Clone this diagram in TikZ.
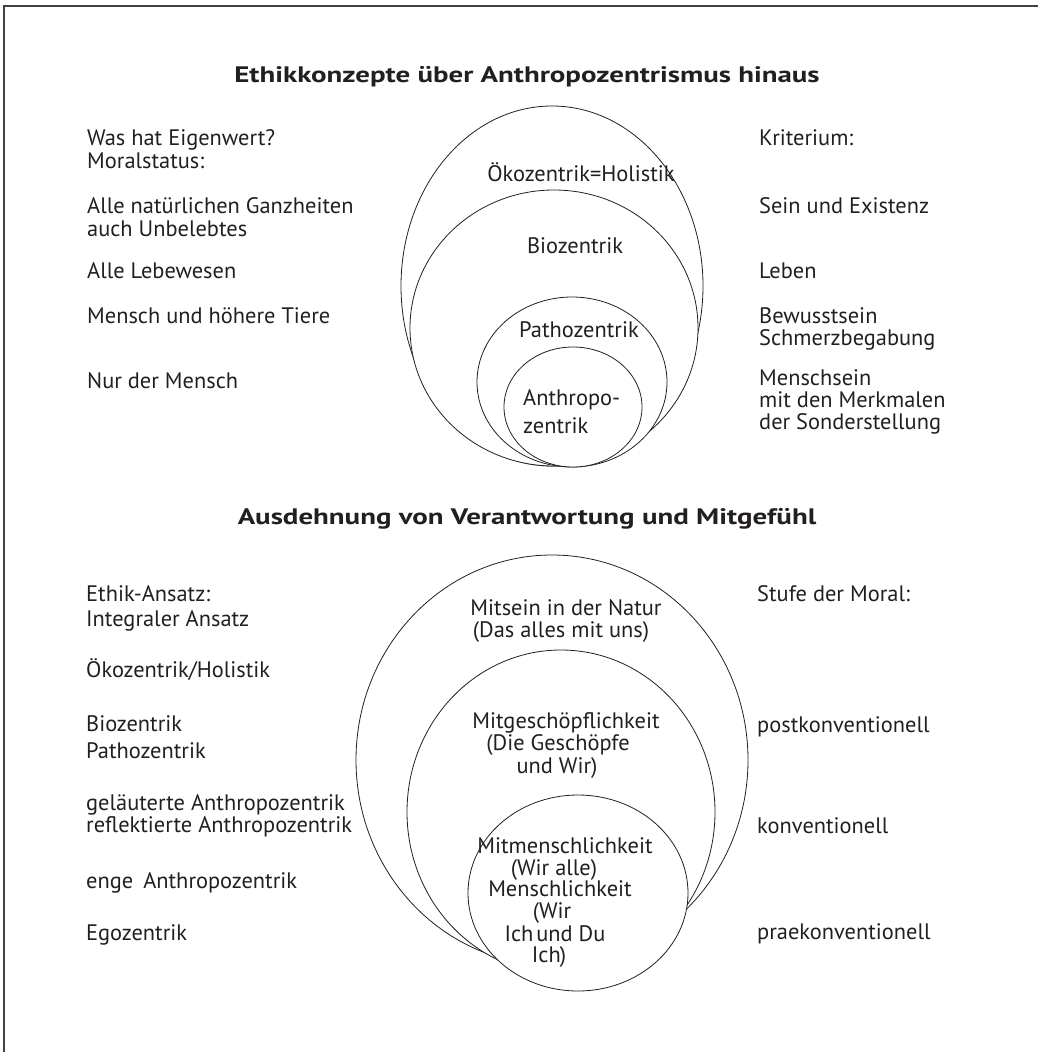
\documentclass[tikz,border=0pt]{standalone}
\usepackage{fontspec}
\setmainfont{PT Sans}
\newfontfamily\titlefont[FakeStretch=1.29]{PT Sans}
\definecolor{ink}{HTML}{231F20}
\begin{document}
\begin{tikzpicture}[x=1pt,y=-1pt,
  every node/.style={inner sep=0pt, text=ink, font=\fontsize{22.4}{24}\selectfont},
  lbl/.style={anchor=base west},
  ctr/.style={anchor=base},
  hd/.style={anchor=base, font=\titlefont\fontsize{22.4}{24}\selectfont\bfseries},
  ring/.style={draw=ink, line width=0.8pt, fill=white},
  frame/.style={draw=ink!85, line width=1.4pt}]
\useasboundingbox (0,0) rectangle (1038,1052);
\draw[frame] (4,1052) -- (4,6) -- (1038,6);

% ---------- top diagram ----------
\node[hd] (t1) at (527,82) {Ethikkonzepte über Anthropozentrismus hinaus};

\draw[ring] (552,286) ellipse [x radius=151pt, y radius=180pt];
\draw[ring] (554,328) ellipse [x radius=144pt, y radius=138pt];
\draw[ring] (572,382) ellipse [x radius=95pt, y radius=85pt];
\draw[ring] (573,407) ellipse [x radius=69pt, y radius=60pt];

\node[ctr] (c1) at (581,181) {Ökozentrik=Holistik};
\node[ctr] (c2) at (575,253) {Biozentrik};
\node[ctr] (c3) at (579,337) {Pathozentrik};
\node[lbl] (c4a) at (523,405) {Anthropo-};
\node[lbl] (c4b) at (523,433) {zentrik};

\node[lbl] (l1a) at (87,145) {Was hat Eigenwert?};
\node[lbl] (l1b) at (87,168) {Moralstatus:};
\node[lbl] (l2a) at (87,213) {Alle natürlichen Ganzheiten};
\node[lbl] (l2b) at (87,236) {auch Unbelebtes};
\node[lbl] (l3) at (87,278) {Alle Lebewesen};
\node[lbl] (l4) at (87,323) {Mensch und höhere Tiere};
\node[lbl] (l5) at (87,388) {Nur der Mensch};

\node[lbl] (r1) at (759,145) {Kriterium:};
\node[lbl] (r2) at (759,213) {Sein und Existenz};
\node[lbl] (r3) at (759,278) {Leben};
\node[lbl] (r4a) at (759,323) {Bewusstsein};
\node[lbl] (r4b) at (759,345) {Schmerzbegabung};
\node[lbl] (r5a) at (759,385) {Menschsein};
\node[lbl] (r5b) at (759,407) {mit den Merkmalen};
\node[lbl] (r5c) at (759,429) {der Sonderstellung};

% ---------- bottom diagram ----------
\node[hd] (t2) at (527,524) {Ausdehnung von Verantwortung und Mitgefühl};

\draw[ring] (552,760) ellipse [x radius=196pt, y radius=205pt];
\draw[ring] (561,812) ellipse [x radius=154pt, y radius=162pt];
\draw[ring] (578,893) ellipse [x radius=110pt, y radius=98pt];

\node[ctr] (m1a) at (566,615) {Mitsein in der Natur};
\node[ctr] (m1b) at (561,637) {(Das alles mit uns)};
\node[ctr] (m2a) at (566,728) {Mitgeschöpflichkeit};
\node[ctr] (m2b) at (558,750) {(Die Geschöpfe};
\node[ctr] (m2c) at (557,773) {und Wir)};
\node[ctr] (m3a) at (565,853) {Mitmenschlichkeit};
\node[ctr] (m3b) at (554,875) {(Wir alle)};
\node[ctr] (m3c) at (560,896) {Menschlichkeit};
\node[ctr] (m3d) at (552,918) {(Wir};
\node[ctr] (m3e) at (555,941) {Ich\hspace{3pt}und Du};
\node[ctr] (m3f) at (549,962) {Ich\kern-1pt)};

\node[lbl] (b1) at (86,601) {Ethik-Ansatz:};
\node[lbl] (b2) at (86,626) {Integraler Ansatz};
\node[lbl] (b3) at (86,677) {Ökozentrik/Holistik};
\node[lbl] (b4a) at (86,731) {Biozentrik};
\node[lbl] (b4b) at (86,758) {Pathozentrik};
\node[lbl] (b5a) at (86,810) {geläuterte Anthropozentrik};
\node[lbl] (b5b) at (86,832) {reflektierte Anthropozentrik};
\node[lbl] (b6) at (86,888) {enge\hspace{0.45em}Anthropozentrik};
\node[lbl] (b7) at (86,940) {Egozentrik};

\node[lbl] (s1) at (757,601) {Stufe der Moral:};
\node[lbl] (s2) at (757,732) {postkonventionell};
\node[lbl] (s3) at (757,833) {konventionell};
\node[lbl] (s4) at (757,939) {praekonventionell};
\end{tikzpicture}
\end{document}
